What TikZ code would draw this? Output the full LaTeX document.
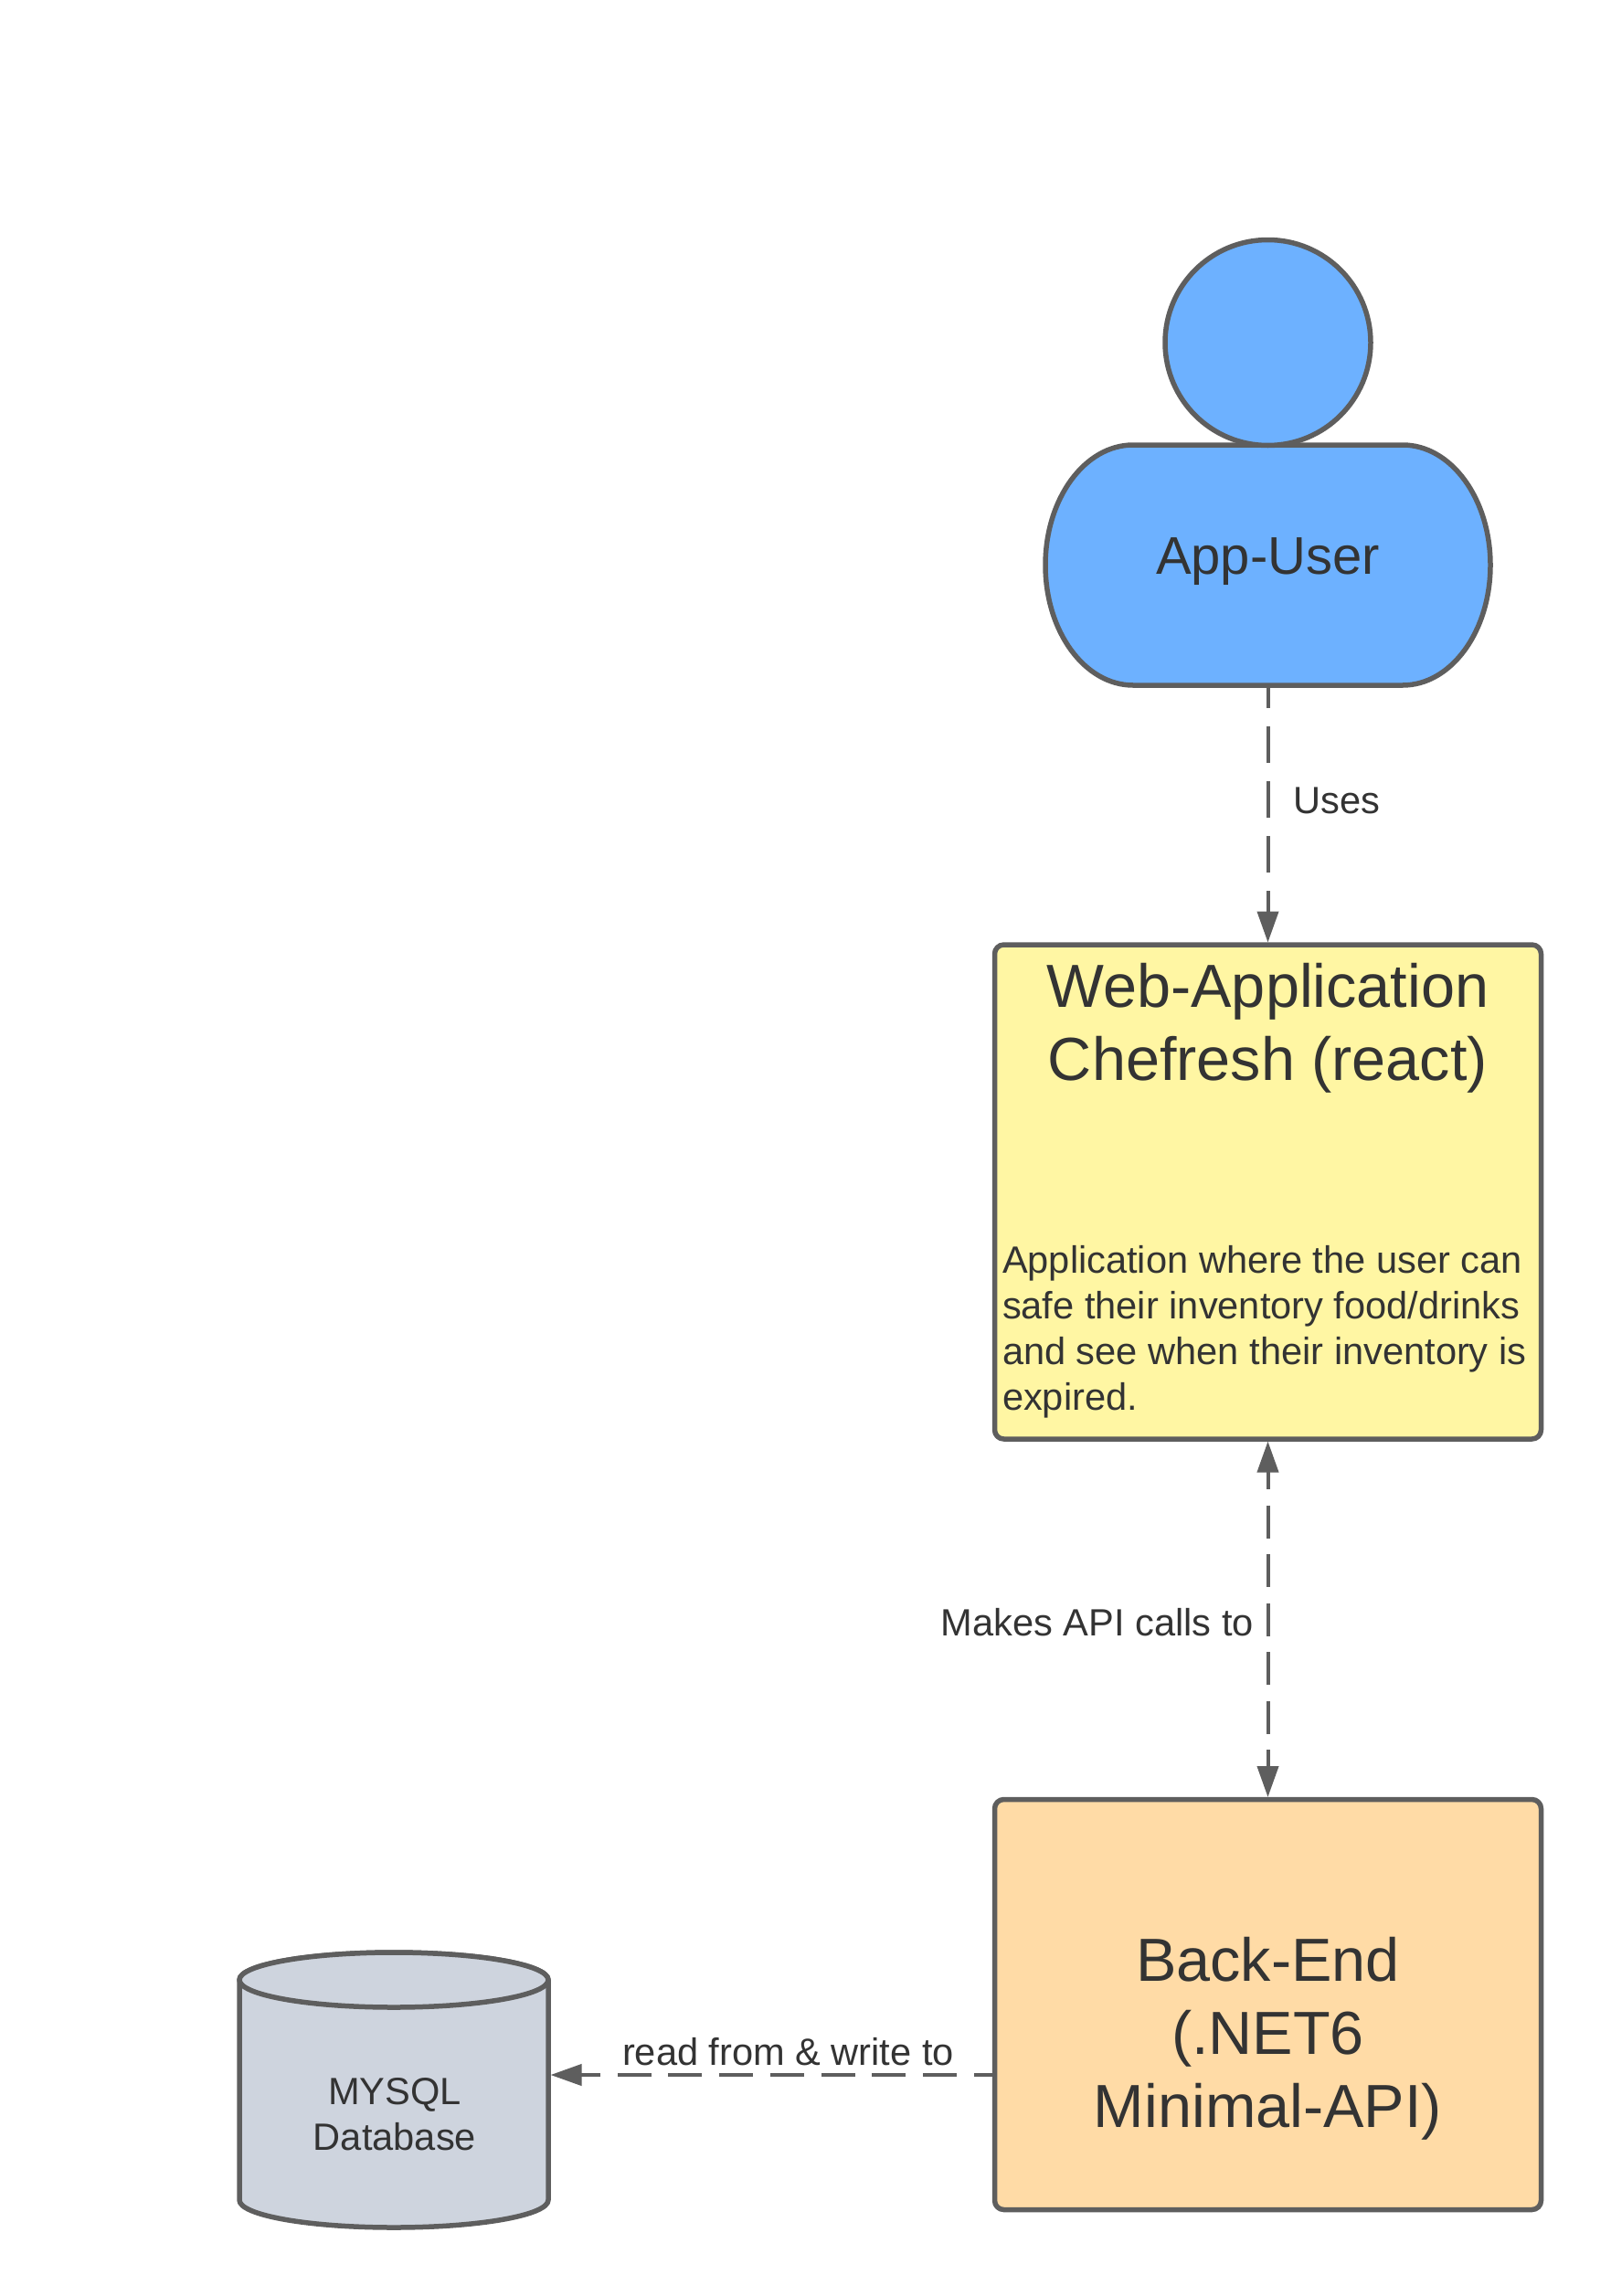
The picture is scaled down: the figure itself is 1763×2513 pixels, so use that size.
\documentclass[tikz,border=0pt]{standalone}
\usepackage{fontspec}
\setmainfont{Liberation Sans}
\usetikzlibrary{arrows.meta}
\definecolor{edgegray}{HTML}{5E5E5E}
\definecolor{inkgray}{HTML}{333333}
\definecolor{userblue}{HTML}{6DB1FF}
\definecolor{webyellow}{HTML}{FFF6A3}
\definecolor{backorange}{HTML}{FFDBA6}
\definecolor{dbgray}{HTML}{CED4DE}
\tikzset{
  x=1pt,y=-1pt,
  shapeline/.style={draw=edgegray,line width=5.5pt,line join=round},
  box/.style={shapeline,rectangle,rounded corners=10pt,minimum width=598pt,inner sep=0pt,outer sep=2.5pt},
  holder/.style={inner sep=0pt,outer sep=0pt,align=center,text=inkgray},
  bigtext/.style={holder,font=\fontsize{66.6}{80}\selectfont},
  usertext/.style={holder,font=\fontsize{58}{70}\selectfont},
  smalltext/.style={holder,font=\fontsize{41.6}{50}\selectfont},
  linklabel/.style={holder,font=\fontsize{41.6}{50}\selectfont},
  headtip/.style={Triangle[length=34pt,width=23pt,fill=edgegray]},
  link/.style={draw=edgegray,line width=4pt,-{Triangle[length=34pt,width=23pt,fill=edgegray]}},
  biglink/.style={draw=edgegray,line width=4pt,{Triangle[length=34pt,width=23pt,fill=edgegray]}-{Triangle[length=34pt,width=23pt,fill=edgegray]}},
}
\begin{document}
\begin{tikzpicture}
\useasboundingbox (0,0) rectangle (1763,2513);
\fill[white] (0,0) rectangle (1763,2513);
% actor
\fill[userblue,shapeline] (1240,487) -- (1535,487)
  arc[start angle=-90,end angle=90,x radius=96,y radius=131.5]
  -- (1240,750)
  arc[start angle=90,end angle=270,x radius=96,y radius=131.5] -- cycle;
\node[shapeline,fill=userblue,circle,minimum size=225pt,inner sep=0pt] (head) at (1387.5,375) {};
\node[holder,minimum width=487pt,minimum height=263pt,outer sep=2.5pt] (user) at (1387.5,618.5) {};
\node[usertext] (usertxt) at (1387.5,615) {App-User};
% web
\node[box,fill=webyellow,minimum height=541pt] (web) at (1387.5,1304.5) {};
\node[bigtext] (webtitle) at (1387.5,1125) {Web-Application\\Chefresh (react)};
\node[smalltext,align=left,anchor=north west] (webbody) at (1097,1363) {Application where the user can\\safe their inventory food/drinks\\and see when their inventory is\\expired.};
% back end
\node[box,fill=backorange,minimum height=449pt] (back) at (1387.5,2194) {};
\node[bigtext] (backtxt) at (1387.5,2231) {Back-End\\(.NET6\\Minimal-API)};
% database
\draw[shapeline,fill=dbgray] (262,2167) -- (262,2408)
  arc[start angle=180,end angle=0,x radius=169,y radius=30] -- (600,2167)
  arc[start angle=0,end angle=-180,x radius=169,y radius=30] -- cycle;
\draw[shapeline,fill=dbgray] (431,2167) ellipse[x radius=169,y radius=30];
\node[holder,minimum width=338pt,minimum height=301pt,outer sep=2.5pt] (db) at (431,2287.5) {};
\node[smalltext] (dbtxt) at (432,2314) {MYSQL\\Database};
% connectors
\coordinate (backport) at (back.west |- 0,2271);
\coordinate (dbport) at (db.east |- 0,2271);
\draw[link,dash pattern=on 40pt off 20pt,dash phase=17.5pt] (user.south) -- (web.north);
\draw[biglink,dash pattern=on 36pt off 17.5pt,dash phase=16.5pt] (web.south) -- (back.north);
\draw[link,dash pattern=on 37pt off 18.7pt,dash phase=16.6pt] (backport) -- (dbport);
% labels
\node[linklabel] (uses) at (1463,876) {Uses};
\node[linklabel,anchor=east] (calls) at (1372,1776) {Makes API calls to};
\node[linklabel] (rw) at (862.5,2246) {read from \& write to};
\end{tikzpicture}
\end{document}
